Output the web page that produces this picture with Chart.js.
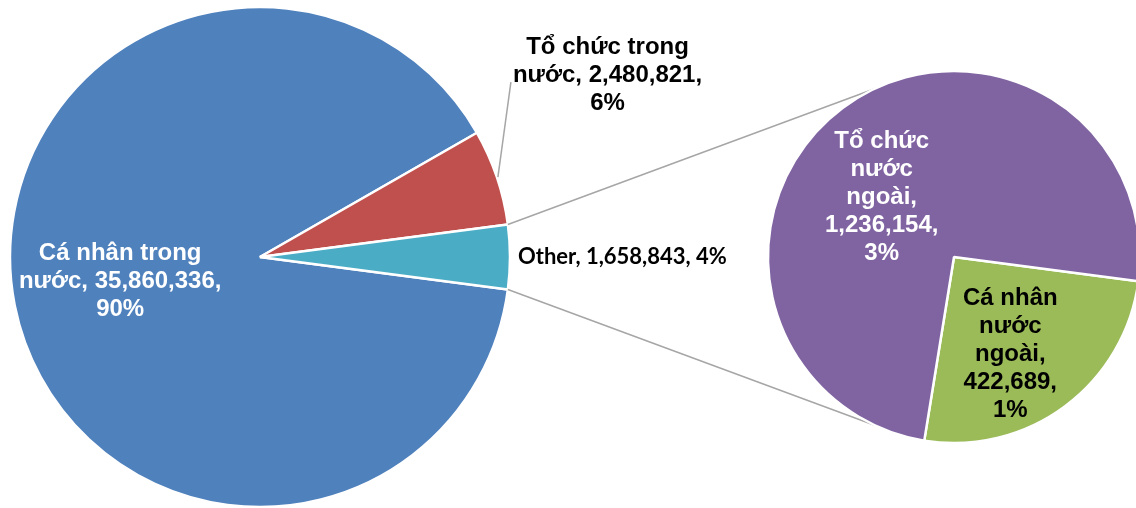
<!DOCTYPE html>
<html>
<head>
<meta charset="utf-8">
<script src="https://cdn.jsdelivr.net/npm/chart.js@4.4.1/dist/chart.umd.min.js"></script>
<style>
  html, body { margin: 0; padding: 0; background: #fff; }
  #wrap { position: relative; width: 1136px; height: 508px; overflow: hidden; }
  #mainPie { position: absolute; left: 0; top: 0; }
  #subPie { position: absolute; left: 754px; top: 57px; }
</style>
</head>
<body>
<div id="wrap">
  <canvas id="mainPie" width="1136" height="508"></canvas>
  <canvas id="subPie" width="400" height="400"></canvas>
</div>
<script>
// main pie (the last slice "Other" is split out into the small pie)
var mainCategories = ['Cá nhân trong nước', 'Tổ chức trong nước', 'Other'];
var mainValues = [35860336, 2480821, 1658843];
var mainColors = ['#4F81BD', '#C0504D', '#4BACC6'];

// breakdown of "Other"
var subCategories = ['Cá nhân nước ngoài', 'Tổ chức nước ngoài'];
var subValues = [422689, 1236154];
var subColors = ['#9BBB59', '#8064A2'];

var total = mainValues.reduce(function (a, b) { return a + b; }, 0);
var otherShare = mainValues[2] / total;
// Excel centres the split slice on the right side
var startRotation = 90 + 180 * otherShare;

var FONT = 'bold 24px "Liberation Sans", Arial, sans-serif';
var OTHER_FONT = 'bold 22px Lato, "Open Sans", sans-serif';
var LINE_H = 28;

function labelText(name, value) {
    var pct = Math.round(value / total * 100);
    return name + ', ' + value.toLocaleString('en-US') + ', ' + pct + '%';
}

function wrapText(ctx, text, maxW) {
    var words = text.split(' ');
    var lines = [];
    var cur = '';
    words.forEach(function (w) {
        var test = cur ? cur + ' ' + w : w;
        if (cur && ctx.measureText(test).width > maxW) {
            lines.push(cur);
            cur = w;
        } else {
            cur = test;
        }
    });
    if (cur) lines.push(cur);
    return lines;
}

function drawLines(ctx, lines, cx, cy) {
    lines.forEach(function (l, i) {
        ctx.fillText(l, cx, cy + (i - (lines.length - 1) / 2) * LINE_H);
    });
}

// draws data labels: 'inside', 'leader' (outside with a leader line) or 'right'
var sliceLabels = {
    id: 'sliceLabels',
    afterDatasetsDraw: function (chart, args, opts) {
        var ctx = chart.ctx;
        var meta = chart.getDatasetMeta(0);
        var names = chart.data.labels;
        var values = chart.data.datasets[0].data;
        ctx.save();
        ctx.font = FONT;
        ctx.textBaseline = 'middle';
        meta.data.forEach(function (arc, i) {
            var mode = opts.modes[i];
            var mid = (arc.startAngle + arc.endAngle) / 2;
            var r = arc.outerRadius;
            var shift = opts.shift[i];
            var text = labelText(names[i], values[i]);
            ctx.fillStyle = opts.colors[i];
            if (mode === 'inside') {
                var lines = wrapText(ctx, text, opts.wrap);
                ctx.textAlign = 'center';
                drawLines(ctx, lines,
                    arc.x + Math.cos(mid) * r * opts.factor + shift[0],
                    arc.y + Math.sin(mid) * r * opts.factor + shift[1]);
            } else if (mode === 'leader') {
                var sx = arc.x + Math.cos(mid) * r;
                var sy = arc.y + Math.sin(mid) * r;
                var ex = sx + 14, ey = sy - 95;
                ctx.strokeStyle = '#A6A6A6';
                ctx.lineWidth = 1.5;
                ctx.beginPath();
                ctx.moveTo(sx + 1, sy);
                ctx.lineTo(ex, ey);
                ctx.stroke();
                var lines2 = wrapText(ctx, text, opts.wrap);
                var maxW = Math.max.apply(null, lines2.map(function (l) { return ctx.measureText(l).width; }));
                ctx.textAlign = 'center';
                drawLines(ctx, lines2, ex + 2 + maxW / 2, ey - 7);
            } else if (mode === 'right') {
                ctx.font = OTHER_FONT;
                ctx.textAlign = 'left';
                ctx.fillText(text, arc.x + Math.cos(mid) * r + 8, arc.y + Math.sin(mid) * r);
                ctx.font = FONT;
            }
        });
        ctx.restore();
    }
};

var subChart = new Chart(document.getElementById('subPie'), {
    type: 'pie',
    data: {
        labels: subCategories,
        datasets: [{
            data: subValues,
            backgroundColor: subColors,
            borderColor: '#FFFFFF',
            borderWidth: 2.5
        }]
    },
    options: {
        responsive: false,
        animation: false,
        events: [],
        rotation: startRotation,
        radius: 186,
        layout: { padding: 14 },
        plugins: {
            legend: { display: false },
            tooltip: { enabled: false },
            sliceLabels: {
                modes: ['inside', 'inside'],
                colors: ['#000000', '#FFFFFF'],
                wrap: 125,
                factor: 0.57,
                shift: [[-7, 12], [-9, 25]]
            }
        }
    },
    plugins: [sliceLabels]
});

// grey lines from the split slice to the second pie
var connectors = {
    id: 'connectors',
    afterDatasetsDraw: function (chart) {
        var arc = chart.getDatasetMeta(0).data[2];
        var sub = subChart.getDatasetMeta(0).data[0];
        var offX = subChart.canvas.offsetLeft, offY = subChart.canvas.offsetTop;
        var cx = sub.x + offX, cy = sub.y + offY, r = sub.outerRadius;
        var spread = 65 * Math.PI / 180;
        var ends = [Math.PI + spread, Math.PI - spread];
        var starts = [arc.startAngle, arc.endAngle];
        var ctx = chart.ctx;
        ctx.save();
        ctx.strokeStyle = '#A6A6A6';
        ctx.lineWidth = 1.5;
        for (var k = 0; k < 2; k++) {
            ctx.beginPath();
            ctx.moveTo(arc.x + Math.cos(starts[k]) * arc.outerRadius, arc.y + Math.sin(starts[k]) * arc.outerRadius);
            ctx.lineTo(cx + Math.cos(ends[k]) * r, cy + Math.sin(ends[k]) * r);
            ctx.stroke();
        }
        ctx.restore();
    }
};

var mainChart = new Chart(document.getElementById('mainPie'), {
    type: 'pie',
    data: {
        labels: mainCategories,
        datasets: [{
            data: mainValues,
            backgroundColor: mainColors,
            borderColor: '#FFFFFF',
            borderWidth: 2.5
        }]
    },
    options: {
        responsive: false,
        animation: false,
        events: [],
        rotation: startRotation,
        radius: 250,
        layout: { padding: { left: 10, top: 7, right: 626, bottom: 1 } },
        plugins: {
            legend: { display: false },
            tooltip: { enabled: false },
            sliceLabels: {
                modes: ['inside', 'leader', 'right'],
                colors: ['#FFFFFF', '#000000', '#000000'],
                wrap: 212,
                factor: 0.57,
                shift: [[0, -3], [0, 0], [0, 0]]
            }
        }
    },
    plugins: [connectors, sliceLabels]
});
</script>
</body>
</html>
